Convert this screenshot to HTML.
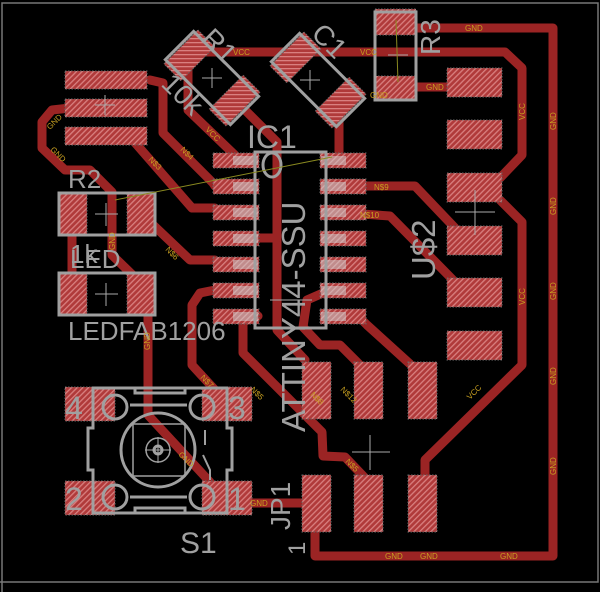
<!DOCTYPE html>
<html><head><meta charset="utf-8"><style>
html,body{margin:0;padding:0;background:#000;}
svg{display:block;}
.t{fill:none;stroke:#9b2424;stroke-width:9;stroke-linejoin:round;stroke-linecap:round;}
.p{fill:url(#h);stroke:#666;stroke-width:1;stroke-dasharray:1.5 1.5;}
.g{fill:none;stroke:#a0a0a0;stroke-width:3;}
.gt{fill:#a0a0a0;font-family:"Liberation Sans",sans-serif;}
.s{fill:#c8a020;font-family:"Liberation Sans",sans-serif;font-size:8px;}
</style></head><body>
<svg width="600" height="592" viewBox="0 0 600 592" xmlns="http://www.w3.org/2000/svg">
<defs>
<pattern id="h" patternUnits="userSpaceOnUse" width="4" height="4" patternTransform="rotate(45)">
<rect width="4" height="4" fill="#b03a3a"/><rect width="1.3" height="4" fill="#d98080"/>
</pattern>
</defs>
<rect x="0" y="0" width="600" height="592" fill="#000"/>
<path d="M2 592 V3 H598 V582 H0" fill="none" stroke="#777" stroke-width="1.5"/>

<g class="t">
<polyline points="200,52 505,52 522,68 522,155 500,178"/>
<polyline points="500,200 522,222 522,365 425,460 425,478"/>
<polyline points="188,70 188,110 240,160"/>
<polyline points="410,28 553,28 553,556 315,556 315,522"/>
<polyline points="410,87 450,87"/>
<polyline points="345,100 339,112 339,158"/>
<polyline points="70,108 52,110 42,122 42,148 65,170 90,170 112,192 112,255 148,290 148,415 210,482"/>
<polyline points="225,503 305,503"/>
<polyline points="130,137 192,208 215,208"/>
<polyline points="150,80 163,83 163,133 213,183 215,186"/>
<polyline points="150,222 190,260 215,260"/>
<polyline points="72,230 72,278"/>
<polyline points="215,290 200,293 192,305 192,365 215,390"/>
<polyline points="258,316 243,322 243,353 322,432 323,456 345,457 365,478"/>
<polyline points="323,293 307,300 303,327 320,345 340,345 365,370"/>
<polyline points="362,320 367,325 410,364"/>
<polyline points="362,186 415,186 455,228"/>
<polyline points="362,214 390,216 455,282"/>
<polyline points="240,105 277,142 277,330 305,360"/>
<polyline points="255,238 277,238"/>
</g>

<g class="p">
<rect x="65" y="71" width="82" height="18"/>
<rect x="65" y="99" width="82" height="18"/>
<rect x="65" y="127" width="82" height="18"/>
<g transform="translate(212,78) rotate(45)">
<rect x="-44" y="-24" width="24" height="48"/><rect x="20" y="-24" width="24" height="48"/>
</g>
<g transform="translate(318,80) rotate(45)">
<rect x="-44" y="-24" width="24" height="48"/><rect x="20" y="-24" width="24" height="48"/>
</g>
<rect x="375" y="9" width="41" height="26"/>
<rect x="375" y="76" width="41" height="25"/>
<rect x="447" y="68" width="55" height="29"/>
<rect x="447" y="120" width="55" height="29"/>
<rect x="447" y="173" width="55" height="29"/>
<rect x="447" y="226" width="55" height="29"/>
<rect x="447" y="278" width="55" height="29"/>
<rect x="447" y="331" width="55" height="29"/>
<rect x="213" y="153" width="46" height="15"/><rect x="320" y="153" width="46" height="15"/>
<rect x="213" y="179" width="46" height="15"/><rect x="320" y="179" width="46" height="15"/>
<rect x="213" y="205" width="46" height="15"/><rect x="320" y="205" width="46" height="15"/>
<rect x="213" y="231" width="46" height="15"/><rect x="320" y="231" width="46" height="15"/>
<rect x="213" y="257" width="46" height="15"/><rect x="320" y="257" width="46" height="15"/>
<rect x="213" y="283" width="46" height="15"/><rect x="320" y="283" width="46" height="15"/>
<rect x="213" y="309" width="46" height="15"/><rect x="320" y="309" width="46" height="15"/>
<rect x="302" y="362" width="29" height="57"/><rect x="354" y="362" width="29" height="57"/><rect x="408" y="362" width="29" height="57"/>
<rect x="302" y="475" width="29" height="57"/><rect x="354" y="475" width="29" height="57"/><rect x="408" y="475" width="29" height="57"/>
<rect x="59" y="193" width="28" height="42"/><rect x="127" y="193" width="28" height="42"/>
<rect x="59" y="273" width="28" height="42"/><rect x="127" y="273" width="28" height="42"/>
<rect x="65" y="387" width="50" height="34"/><rect x="202" y="387" width="50" height="34"/>
<rect x="65" y="481" width="50" height="34"/><rect x="202" y="481" width="50" height="34"/>
</g>
<g fill="#d0d0d0" fill-opacity="0.55">
<rect x="233" y="156" width="25" height="9"/><rect x="321" y="156" width="25" height="9"/>
<rect x="233" y="182" width="25" height="9"/><rect x="321" y="182" width="25" height="9"/>
<rect x="233" y="208" width="25" height="9"/><rect x="321" y="208" width="25" height="9"/>
<rect x="233" y="234" width="25" height="9"/><rect x="321" y="234" width="25" height="9"/>
<rect x="233" y="260" width="25" height="9"/><rect x="321" y="260" width="25" height="9"/>
<rect x="233" y="286" width="25" height="9"/><rect x="321" y="286" width="25" height="9"/>
<rect x="233" y="312" width="25" height="9"/><rect x="321" y="312" width="25" height="9"/>
</g>

<g class="g">
<g transform="translate(212,78) rotate(45)"><rect x="-46" y="-20" width="92" height="40"/></g>
<g transform="translate(318,80) rotate(45)"><rect x="-46" y="-20" width="92" height="40"/></g>
<rect x="375" y="12" width="41" height="88"/>
<rect x="255" y="152" width="71" height="176"/>
<ellipse cx="272" cy="165" rx="9" ry="12"/>
<rect x="59" y="193" width="96" height="42"/>
<rect x="59" y="273" width="96" height="42"/>
<path d="M93 388 H227 V428 H232 V470 H227 V513 H93 V470 H88 V428 H93 Z"/>
<rect x="135" y="388" width="50" height="5"/><rect x="135" y="508" width="50" height="5"/>
<line x1="130" y1="405" x2="187" y2="405"/><line x1="130" y1="497" x2="187" y2="497"/>
<circle cx="158" cy="450" r="37"/>
<rect x="133" y="424" width="52" height="52" stroke-width="1.5"/>
<circle cx="158" cy="450" r="12" stroke-width="1.5"/>
<circle cx="158" cy="450" r="4"/>
<circle cx="115" cy="407" r="12"/><circle cx="202" cy="407" r="12"/>
<circle cx="115" cy="497" r="12"/><circle cx="202" cy="497" r="12"/>
<path d="M205 430 V445 M203 455 L210 470 V480" stroke-width="2"/>
</g>
<g stroke="#aaa" stroke-width="1">
<path d="M370 435 V470 M352 452 H390"/>
<path d="M475 190 V235 M455 212 H495"/>
<path d="M105 95 V115 M95 105 H115"/>
<path d="M106 203 V226 M95 214 H118"/>
<path d="M106 283 V306 M95 294 H118"/>
<path d="M145 450 H171 M158 437 V463"/>
<path d="M310 70 V90 M300 80 H320"/>
<path d="M212 68 V88 M202 78 H222"/>
<path d="M388 55 H408"/>
<path d="M270 300 H312"/>
</g>
<line x1="115" y1="200" x2="332" y2="157" stroke="#8a8a20" stroke-width="1"/>
<line x1="396" y1="20" x2="398" y2="82" stroke="#8a8a20" stroke-width="1"/>

<g class="gt">
<text x="0" y="0" font-size="28" transform="translate(200,40) rotate(45)">R1</text>
<text x="0" y="0" font-size="28" transform="translate(160,85) rotate(45)">10k</text>
<text x="0" y="0" font-size="28" transform="translate(310,35) rotate(45)">C1</text>
<text x="0" y="0" font-size="28" transform="translate(440,55) rotate(-90)">R3</text>
<text x="247" y="148" font-size="32">IC1</text>
<text x="0" y="0" font-size="33" transform="translate(305,432) rotate(-90)">ATTINY44-SSU</text>
<text x="0" y="0" font-size="33" transform="translate(435,280) rotate(-90)">U$2</text>
<text x="68" y="188" font-size="26">R2</text>
<text x="70" y="263" font-size="26">1k</text>
<text x="70" y="268" font-size="26">LED</text>
<text x="68" y="340" font-size="26">LEDFAB1206</text>
<text x="180" y="553" font-size="30">S1</text>
<text x="0" y="0" font-size="28" transform="translate(290,530) rotate(-90)">JP1</text>
<text x="0" y="0" font-size="24" transform="translate(305,555) rotate(-90)">1</text>
<text x="65" y="419" font-size="32">4</text>
<text x="228" y="419" font-size="32">3</text>
<text x="65" y="510" font-size="32">2</text>
<text x="228" y="510" font-size="32">1</text>
</g>

<g class="s">
<text x="233" y="55">VCC</text>
<text x="360" y="55">VCC</text>
<text x="465" y="31">GND</text>
<text x="426" y="90">GND</text>
<text x="370" y="98">GND</text>
<text x="420" y="559">GND</text>
<text x="385" y="559">GND</text>
<text x="500" y="559">GND</text>
<text x="250" y="506">GND</text>
<text x="374" y="190">N$9</text>
<text x="360" y="218">N$10</text>
<text transform="translate(556,130) rotate(-90)">GND</text>
<text transform="translate(556,215) rotate(-90)">GND</text>
<text transform="translate(556,300) rotate(-90)">GND</text>
<text transform="translate(556,385) rotate(-90)">GND</text>
<text transform="translate(556,475) rotate(-90)">GND</text>
<text transform="translate(525,120) rotate(-90)">VCC</text>
<text transform="translate(525,305) rotate(-90)">VCC</text>
<text transform="translate(470,400) rotate(-45)">VCC</text>
<text transform="translate(205,130) rotate(45)">VCC</text>
<text transform="translate(180,150) rotate(45)">N$4</text>
<text transform="translate(148,160) rotate(45)">N$3</text>
<text transform="translate(165,250) rotate(45)">N$6</text>
<text transform="translate(50,130) rotate(-45)">GND</text>
<text transform="translate(50,150) rotate(45)">GND</text>
<text transform="translate(115,250) rotate(-90)">GND</text>
<text transform="translate(150,350) rotate(-90)">GND</text>
<text transform="translate(178,455) rotate(45)">GND</text>
<text transform="translate(340,390) rotate(45)">N$12</text>
<text transform="translate(310,395) rotate(45)">N$8</text>
<text transform="translate(250,390) rotate(45)">N$5</text>
<text transform="translate(345,462) rotate(45)">N$5</text>
<text transform="translate(200,378) rotate(45)">N$7</text>
</g>
</svg>
</body></html>
